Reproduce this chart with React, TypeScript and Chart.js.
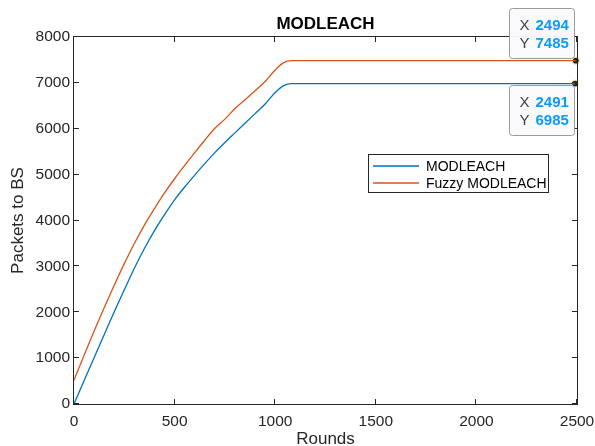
import React, { useEffect, useRef } from 'react';
import { Chart, registerables } from 'chart.js';

Chart.register(...registerables);

const rounds = [0, 50, 100, 150, 200, 250, 300, 350, 400, 450, 500, 550, 600, 650, 700, 750, 800, 850, 900, 950, 1000, 1040, 1080, 1500, 2000, 2491];
const modleach = [0, 505, 1010, 1510, 2010, 2490, 2960, 3390, 3780, 4130, 4450, 4730, 4990, 5240, 5480, 5700, 5910, 6120, 6330, 6540, 6790, 6935, 6985, 6985, 6985, 6985];
const fuzzyRounds = [0, 50, 100, 150, 200, 250, 300, 350, 400, 450, 500, 550, 600, 650, 700, 750, 800, 850, 900, 950, 1000, 1040, 1080, 1500, 2000, 2494];
const fuzzyModleach = [520, 1060, 1590, 2100, 2590, 3060, 3500, 3900, 4260, 4600, 4910, 5200, 5480, 5750, 6010, 6210, 6440, 6630, 6830, 7030, 7280, 7435, 7485, 7485, 7485, 7485];

const seriesNames = ['MODLEACH', 'Fuzzy MODLEACH'];
const seriesColors = ['#0072BD', '#D95319'];

const tipX = [2491, 2494];
const tipY = [6985, 7485];

const xTicks = [0, 500, 1000, 1500, 2000, 2500];
const yTicks = [0, 1000, 2000, 3000, 4000, 5000, 6000, 7000, 8000];

const titleText = 'MODLEACH';
const xTitle = 'Rounds';
const yTitle = 'Packets to BS';

const FONT = "'Liberation Sans', Arial, Helvetica, sans-serif";
const AXIS = '#262626';

function roundRect(ctx: CanvasRenderingContext2D, x: number, y: number, w: number, h: number, r: number) {
  ctx.beginPath();
  ctx.moveTo(x + r, y);
  ctx.lineTo(x + w - r, y);
  ctx.quadraticCurveTo(x + w, y, x + w, y + r);
  ctx.lineTo(x + w, y + h - r);
  ctx.quadraticCurveTo(x + w, y + h, x + w - r, y + h);
  ctx.lineTo(x + r, y + h);
  ctx.quadraticCurveTo(x, y + h, x, y + h - r);
  ctx.lineTo(x, y + r);
  ctx.quadraticCurveTo(x, y, x + r, y);
  ctx.closePath();
}

const decorPlugin = {
  id: 'decor',
  afterDraw(chart: any) {
    const ctx: CanvasRenderingContext2D = chart.ctx;
    const { left, right, top, bottom } = chart.chartArea;
    const xs = chart.scales.x;
    const ys = chart.scales.y;
    ctx.save();
    ctx.strokeStyle = AXIS;
    ctx.lineWidth = 1;
    ctx.strokeRect(left - 0.5, top - 0.5, right - left + 1, bottom - top + 1);
    ctx.beginPath();
    const tl = 5;
    xTicks.forEach((v) => {
      const px = Math.round(xs.getPixelForValue(v)) - 0.5;
      ctx.moveTo(px, bottom);
      ctx.lineTo(px, bottom - tl);
      ctx.moveTo(px, top);
      ctx.lineTo(px, top + tl);
    });
    yTicks.forEach((v) => {
      const py = Math.round(ys.getPixelForValue(v)) - 0.5;
      ctx.moveTo(left, py);
      ctx.lineTo(left + tl, py);
      ctx.moveTo(right, py);
      ctx.lineTo(right - tl, py);
    });
    ctx.stroke();

    ctx.fillStyle = '#000';
    ctx.font = `bold 17px ${FONT}`;
    ctx.textAlign = 'center';
    ctx.textBaseline = 'middle';
    ctx.fillText(titleText, (left + right) / 2, 24);

    ctx.fillStyle = AXIS;
    ctx.font = `17px ${FONT}`;
    ctx.fillText(xTitle, (left + right) / 2, 439);
    ctx.save();
    ctx.translate(18, (top + bottom) / 2);
    ctx.rotate(-Math.PI / 2);
    ctx.fillText(yTitle, 0, 0);
    ctx.restore();

    const lx = 368.5, ly = 154.5, lw = 180, lh = 38;
    ctx.fillStyle = '#fff';
    ctx.fillRect(lx, ly, lw, lh);
    ctx.strokeStyle = AXIS;
    ctx.strokeRect(lx, ly, lw, lh);
    ctx.font = `14px ${FONT}`;
    ctx.textAlign = 'left';
    const rowsY = [166, 183];
    seriesNames.forEach((name, i) => {
      ctx.strokeStyle = seriesColors[i];
      ctx.lineWidth = 1.3;
      ctx.beginPath();
      ctx.moveTo(373, rowsY[i]);
      ctx.lineTo(419, rowsY[i]);
      ctx.stroke();
      ctx.fillStyle = '#000';
      ctx.fillText(name, 426, rowsY[i] + 1);
    });

    const boxes = [
      { x: 509.5, y: 85.5, idx: 0 },
      { x: 509.5, y: 8.5, idx: 1 },
    ];
    boxes.forEach((b) => {
      roundRect(ctx, b.x, b.y, 65, 50, 3);
      ctx.fillStyle = 'rgba(250,250,253,0.97)';
      ctx.fill();
      ctx.strokeStyle = '#9a9aa0';
      ctx.lineWidth = 1;
      ctx.stroke();
      ctx.textAlign = 'left';
      ctx.textBaseline = 'middle';
      const lines = [['X', String(tipX[b.idx])], ['Y', String(tipY[b.idx])]];
      lines.forEach((ln, j) => {
        const cy = b.y + 17 + j * 18;
        ctx.font = `15px ${FONT}`;
        ctx.fillStyle = '#404040';
        ctx.fillText(ln[0], b.x + 10, cy);
        ctx.font = `bold 15px ${FONT}`;
        ctx.fillStyle = '#0A9BFF';
        ctx.fillText(ln[1], b.x + 26, cy);
      });
    });
    ctx.restore();
  },
};

export default function App() {
  const ref = useRef<HTMLCanvasElement | null>(null);
  useEffect(() => {
    if (!ref.current) return;
    const chart = new Chart(ref.current, {
      type: 'line',
      data: {
        datasets: [
          {
            label: seriesNames[0],
            data: rounds.map((r, i) => ({ x: r, y: modleach[i] })),
            borderColor: seriesColors[0],
            borderWidth: 1.3,
            pointRadius: 0,
            cubicInterpolationMode: 'monotone',
            fill: false,
          },
          {
            label: seriesNames[1],
            data: fuzzyRounds.map((r, i) => ({ x: r, y: fuzzyModleach[i] })),
            borderColor: seriesColors[1],
            borderWidth: 1.3,
            pointRadius: 0,
            cubicInterpolationMode: 'monotone',
            fill: false,
          },
          {
            type: 'scatter' as any,
            label: 'tips',
            data: tipX.map((x, i) => ({ x, y: tipY[i] })),
            showLine: false,
            pointRadius: 3.5,
            pointBackgroundColor: '#222',
            pointBorderColor: '#f4f0b0',
            pointBorderWidth: 1.2,
            clip: false as any,
          } as any,
        ],
      },
      options: {
        responsive: false,
        animation: false,
        events: [],
        layout: { padding: { left: 0, right: 18, top: 37, bottom: 0 } },
        plugins: {
          legend: { display: false },
          title: { display: false },
          tooltip: { enabled: false },
        },
        scales: {
          x: {
            type: 'linear',
            min: 0,
            max: 2500,
            afterBuildTicks: (s: any) => {
              s.ticks = xTicks.map((v) => ({ value: v }));
            },
            afterFit: (s: any) => {
              s.height = 42;
              s.paddingLeft = 0;
              s.paddingRight = 0;
            },
            grid: { display: false, drawTicks: false },
            border: { display: false },
            ticks: {
              color: AXIS,
              font: { family: FONT, size: 15.5 },
              padding: 8,
              maxRotation: 0,
              autoSkip: false,
              callback: (v: any) => String(v),
            },
          },
          y: {
            type: 'linear',
            min: 0,
            max: 8000,
            afterBuildTicks: (s: any) => {
              s.ticks = yTicks.map((v) => ({ value: v }));
            },
            afterFit: (s: any) => {
              s.width = 74;
              s.paddingTop = 0;
              s.paddingBottom = 0;
            },
            grid: { display: false, drawTicks: false },
            border: { display: false },
            ticks: {
              color: AXIS,
              font: { family: FONT, size: 15.5 },
              padding: 4,
              autoSkip: false,
              callback: (v: any) => String(v),
            },
          },
        },
      },
      plugins: [decorPlugin],
    });
    return () => chart.destroy();
  }, []);
  return (
    <div style={{ position: 'absolute', left: 0, top: 0, width: 595, height: 446, background: '#fff' }}>
      <canvas ref={ref} width={595} height={446} style={{ display: 'block' }} />
    </div>
  );
}
